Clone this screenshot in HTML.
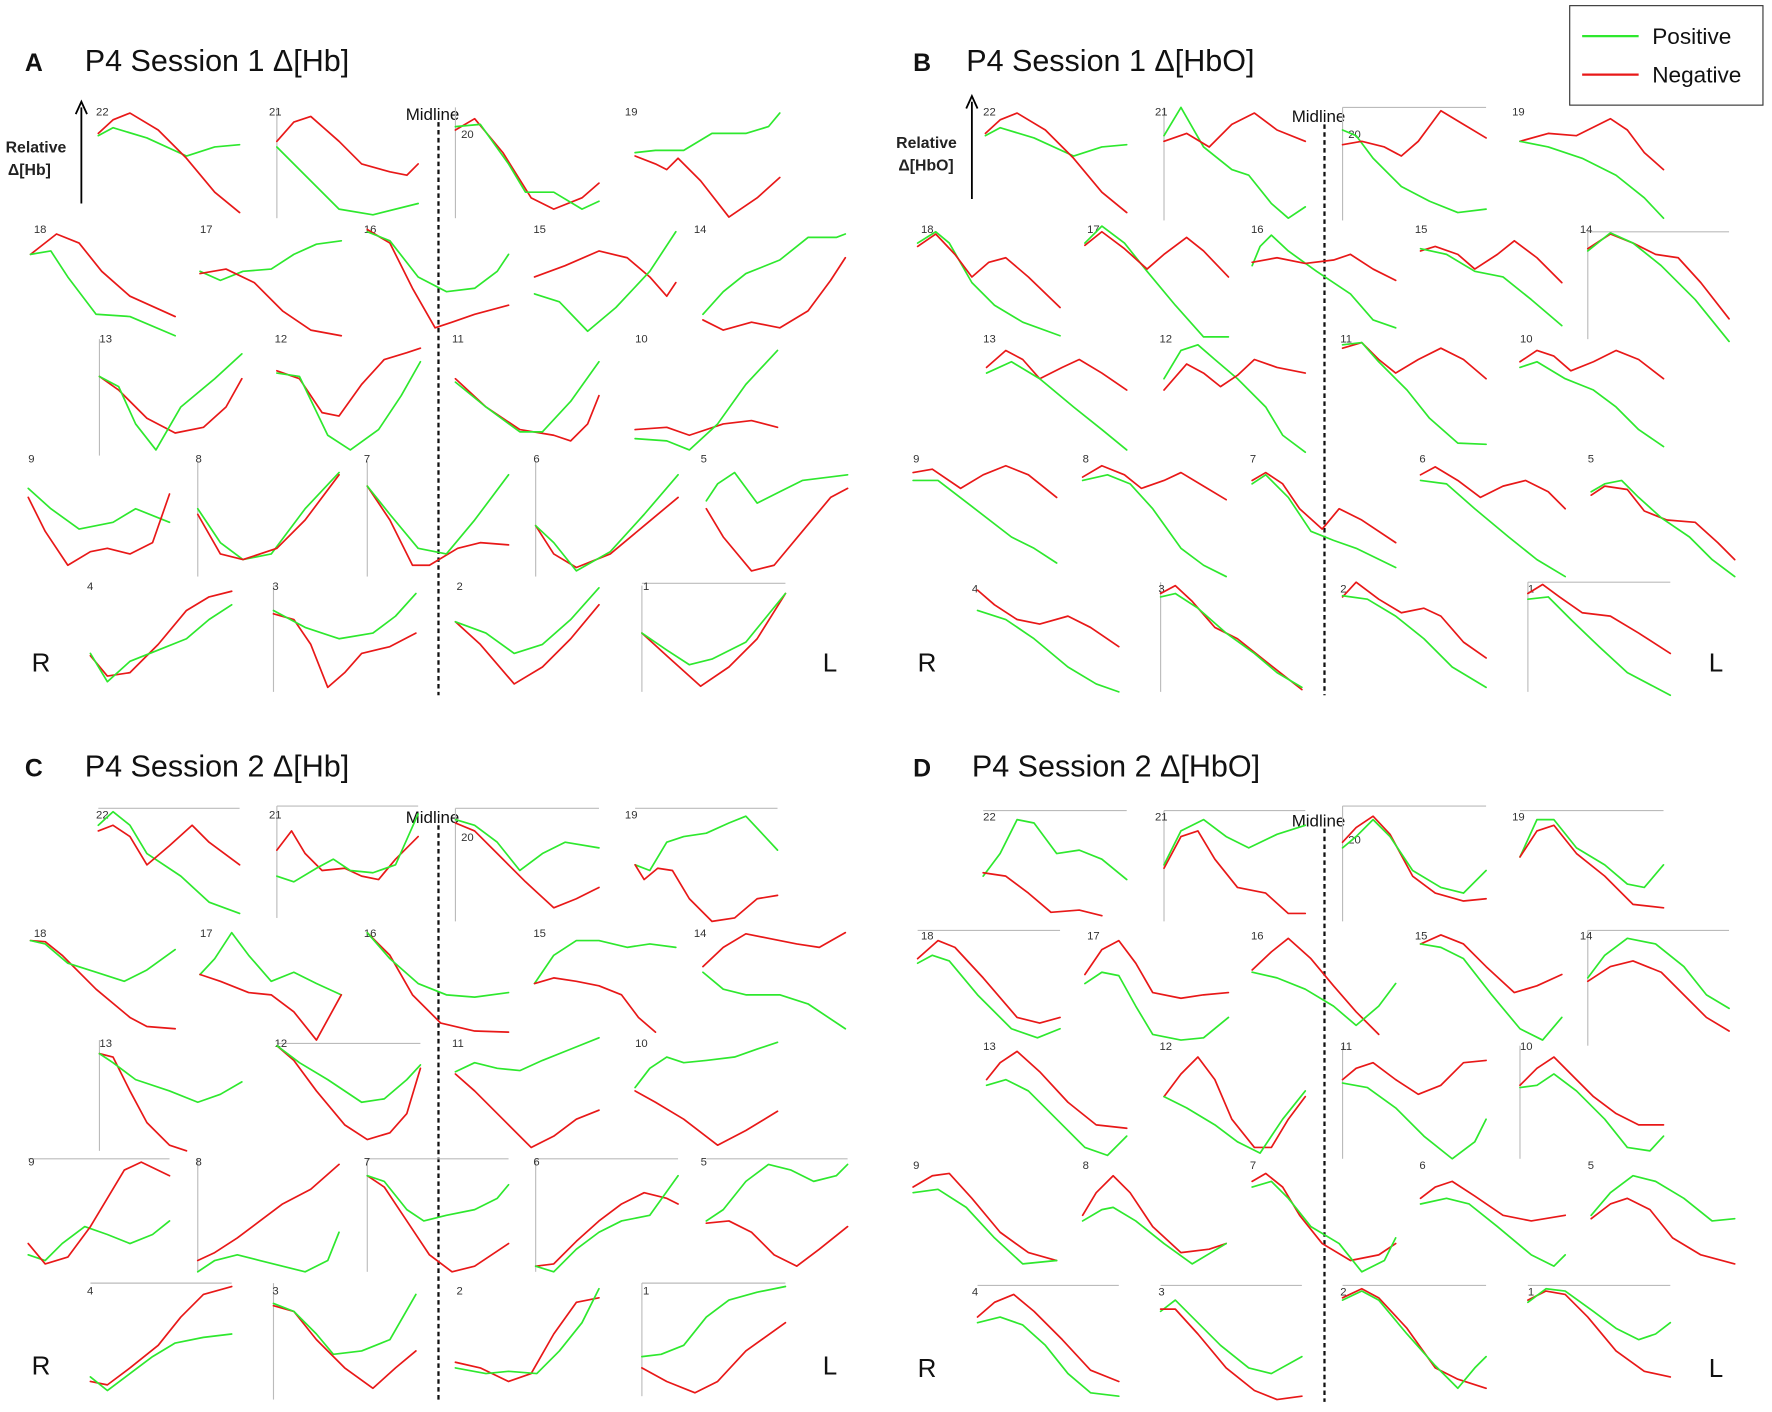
<!DOCTYPE html>
<html><head><meta charset="utf-8"><style>
html,body{margin:0;padding:0;background:#fff;}
svg{display:block;}
.g{fill:none;stroke:#2ee82e;stroke-width:1.5;stroke-linejoin:round;stroke-linecap:round}
.r{fill:none;stroke:#e81818;stroke-width:1.5;stroke-linejoin:round;stroke-linecap:round}
.ax{stroke:#bbb;stroke-width:1}
.n{font-family:"Liberation Sans",sans-serif;font-size:10px;fill:#333}
.t{font-family:"Liberation Sans",sans-serif;font-size:27px;fill:#111}
.b{font-family:"Liberation Sans",sans-serif;font-size:22px;font-weight:bold;fill:#111}
.m{font-family:"Liberation Sans",sans-serif;font-size:15px;fill:#111}
.rl{font-family:"Liberation Sans",sans-serif;font-size:23px;fill:#111}
.y{font-family:"Liberation Sans",sans-serif;font-size:14px;font-weight:bold;fill:#222}
.mid{stroke:#111;stroke-width:2;stroke-dasharray:4,3}
</style></head><body>
<svg width="1772" height="1412" viewBox="0 0 1568 1249" preserveAspectRatio="none" xmlns="http://www.w3.org/2000/svg">
<rect width="1568" height="1249" fill="#fff"/>
<!-- legend -->
<rect x="1389" y="5" width="171" height="88" fill="#fff" stroke="#333" stroke-width="1"/>
<line x1="1400" y1="32" x2="1450" y2="32" stroke="#2ee82e" stroke-width="2"/>
<line x1="1400" y1="66" x2="1450" y2="66" stroke="#e81818" stroke-width="2"/>
<text x="1462" y="39" class="m" style="font-size:20px">Positive</text>
<text x="1462" y="73" class="m" style="font-size:20px">Negative</text>
<!-- titles -->
<text x="22" y="63" class="b">A</text><text x="75" y="63" class="t">P4 Session 1 Δ[Hb]</text>
<text x="808" y="63" class="b">B</text><text x="855" y="63" class="t">P4 Session 1 Δ[HbO]</text>
<text x="22" y="687" class="b">C</text><text x="75" y="687" class="t">P4 Session 2 Δ[Hb]</text>
<text x="808" y="687" class="b">D</text><text x="860" y="687" class="t">P4 Session 2 Δ[HbO]</text>
<!-- y labels -->
<text x="5" y="135" class="y">Relative</text><text x="7" y="155" class="y">Δ[Hb]</text>
<line x1="72" y1="180" x2="72" y2="95" stroke="#000" stroke-width="1.6"/><path d="M67,101 L72,90 L77,101" fill="none" stroke="#000" stroke-width="1.6"/>
<text x="793" y="131" class="y">Relative</text><text x="795" y="151" class="y">Δ[HbO]</text>
<line x1="860" y1="176" x2="860" y2="90" stroke="#000" stroke-width="1.6"/><path d="M855,96 L860,85 L865,96" fill="none" stroke="#000" stroke-width="1.6"/>
<!-- midlines -->
<line x1="388" y1="108" x2="388" y2="615" class="mid"/><text x="359" y="106" class="m">Midline</text>
<line x1="1172" y1="110" x2="1172" y2="615" class="mid"/><text x="1143" y="108" class="m">Midline</text>
<line x1="388" y1="730" x2="388" y2="1240" class="mid"/><text x="359" y="728" class="m">Midline</text>
<line x1="1172" y1="733" x2="1172" y2="1240" class="mid"/><text x="1143" y="731" class="m">Midline</text>
<text x="28" y="594" class="rl">R</text><text x="728" y="594" class="rl">L</text>
<text x="812" y="594" class="rl">R</text><text x="1512" y="594" class="rl">L</text>
<text x="28" y="1216" class="rl">R</text><text x="728" y="1216" class="rl">L</text>
<text x="812" y="1218" class="rl">R</text><text x="1512" y="1218" class="rl">L</text>
<!-- axis lines -->
<g class="ax">
<line x1="245" y1="95" x2="245" y2="193"/><line x1="403" y1="95" x2="403" y2="193"/>
<line x1="88" y1="300" x2="88" y2="403"/><line x1="175" y1="408" x2="175" y2="510"/><line x1="325" y1="408" x2="325" y2="510"/><line x1="474" y1="408" x2="474" y2="510"/><line x1="242" y1="518" x2="242" y2="612"/><line x1="568" y1="518" x2="568" y2="612"/><line x1="568" y1="516" x2="695" y2="516"/>
<line x1="1030" y1="95" x2="1030" y2="195"/><line x1="1188" y1="95" x2="1188" y2="195"/><line x1="1188" y1="95" x2="1315" y2="95"/>
<line x1="1405" y1="205" x2="1405" y2="300"/><line x1="1405" y1="205" x2="1530" y2="205"/><line x1="1027" y1="515" x2="1027" y2="612"/><line x1="1352" y1="515" x2="1352" y2="612"/><line x1="1352" y1="515" x2="1478" y2="515"/>
<line x1="87" y1="715" x2="212" y2="715"/><line x1="245" y1="713" x2="370" y2="713"/><line x1="245" y1="713" x2="245" y2="812"/><line x1="403" y1="715" x2="530" y2="715"/><line x1="403" y1="715" x2="403" y2="815"/><line x1="562" y1="715" x2="688" y2="715"/>
<line x1="88" y1="920" x2="88" y2="1018"/><line x1="245" y1="923" x2="372" y2="923"/><line x1="25" y1="1025" x2="150" y2="1025"/><line x1="175" y1="1025" x2="175" y2="1125"/><line x1="325" y1="1025" x2="450" y2="1025"/><line x1="325" y1="1025" x2="325" y2="1125"/><line x1="474" y1="1025" x2="474" y2="1125"/><line x1="474" y1="1025" x2="600" y2="1025"/><line x1="625" y1="1025" x2="750" y2="1025"/><line x1="80" y1="1135" x2="205" y2="1135"/><line x1="242" y1="1135" x2="242" y2="1238"/><line x1="568" y1="1135" x2="695" y2="1135"/><line x1="568" y1="1135" x2="568" y2="1235"/>
<line x1="870" y1="717" x2="997" y2="717"/><line x1="1030" y1="717" x2="1155" y2="717"/><line x1="1030" y1="717" x2="1030" y2="815"/><line x1="1188" y1="713" x2="1315" y2="713"/><line x1="1188" y1="713" x2="1188" y2="815"/><line x1="1345" y1="717" x2="1472" y2="717"/>
<line x1="812" y1="823" x2="938" y2="823"/><line x1="1405" y1="823" x2="1530" y2="823"/><line x1="1405" y1="823" x2="1405" y2="925"/><line x1="1188" y1="925" x2="1188" y2="1025"/><line x1="1345" y1="925" x2="1345" y2="1025"/>
<line x1="865" y1="1137" x2="990" y2="1137"/><line x1="1027" y1="1137" x2="1152" y2="1137"/><line x1="1188" y1="1137" x2="1315" y2="1137"/><line x1="1352" y1="1137" x2="1478" y2="1137"/>
</g>
<!-- numbers -->
<g class="n">
<text x="85" y="102">22</text><text x="238" y="102">21</text><text x="408" y="122">20</text><text x="553" y="102">19</text>
<text x="30" y="206">18</text><text x="177" y="206">17</text><text x="322" y="206">16</text><text x="472" y="206">15</text><text x="614" y="206">14</text>
<text x="88" y="303">13</text><text x="243" y="303">12</text><text x="400" y="303">11</text><text x="562" y="303">10</text>
<text x="25" y="409">9</text><text x="173" y="409">8</text><text x="322" y="409">7</text><text x="472" y="409">6</text><text x="620" y="409">5</text>
<text x="77" y="522">4</text><text x="241" y="522">3</text><text x="404" y="522">2</text><text x="569" y="522">1</text>
<text x="870" y="102">22</text><text x="1022" y="102">21</text><text x="1193" y="122">20</text><text x="1338" y="102">19</text>
<text x="815" y="206">18</text><text x="962" y="206">17</text><text x="1107" y="206">16</text><text x="1252" y="206">15</text><text x="1398" y="206">14</text>
<text x="870" y="303">13</text><text x="1026" y="303">12</text><text x="1186" y="303">11</text><text x="1345" y="303">10</text>
<text x="808" y="409">9</text><text x="958" y="409">8</text><text x="1106" y="409">7</text><text x="1256" y="409">6</text><text x="1405" y="409">5</text>
<text x="860" y="524">4</text><text x="1025" y="524">3</text><text x="1186" y="524">2</text><text x="1352" y="524">1</text>
<text x="85" y="724">22</text><text x="238" y="724">21</text><text x="408" y="744">20</text><text x="553" y="724">19</text>
<text x="30" y="829">18</text><text x="177" y="829">17</text><text x="322" y="829">16</text><text x="472" y="829">15</text><text x="614" y="829">14</text>
<text x="88" y="926">13</text><text x="243" y="926">12</text><text x="400" y="926">11</text><text x="562" y="926">10</text>
<text x="25" y="1031">9</text><text x="173" y="1031">8</text><text x="322" y="1031">7</text><text x="472" y="1031">6</text><text x="620" y="1031">5</text>
<text x="77" y="1145">4</text><text x="241" y="1145">3</text><text x="404" y="1145">2</text><text x="569" y="1145">1</text>
<text x="870" y="726">22</text><text x="1022" y="726">21</text><text x="1193" y="746">20</text><text x="1338" y="726">19</text>
<text x="815" y="831">18</text><text x="962" y="831">17</text><text x="1107" y="831">16</text><text x="1252" y="831">15</text><text x="1398" y="831">14</text>
<text x="870" y="929">13</text><text x="1026" y="929">12</text><text x="1186" y="929">11</text><text x="1345" y="929">10</text>
<text x="808" y="1034">9</text><text x="958" y="1034">8</text><text x="1106" y="1034">7</text><text x="1256" y="1034">6</text><text x="1405" y="1034">5</text>
<text x="860" y="1146">4</text><text x="1025" y="1146">3</text><text x="1186" y="1146">2</text><text x="1352" y="1146">1</text>
</g>
<!-- Panel A -->
<polyline class="g" points="87,120 100,113 130,122 165,138 190,130 212,128"/>
<polyline class="r" points="87,118 100,106 115,100 140,115 165,140 190,170 212,188"/>
<polyline class="r" points="245,125 260,108 275,103 300,125 320,145 345,152 360,155 370,145"/>
<polyline class="g" points="245,130 270,155 300,185 330,190 370,180"/>
<polyline class="r" points="403,115 420,105 445,135 470,175 490,185 515,175 530,162"/>
<polyline class="g" points="403,112 425,110 450,145 465,170 490,170 515,185 530,178"/>
<polyline class="g" points="562,135 580,133 605,133 630,118 660,118 680,112 690,100"/>
<polyline class="r" points="562,138 580,145 590,150 600,140 620,160 645,192 670,175 690,157"/>
<polyline class="r" points="27,225 50,207 70,215 90,240 115,262 155,280"/>
<polyline class="g" points="27,225 45,222 60,245 85,278 115,280 155,297"/>
<polyline class="g" points="177,240 195,248 215,240 240,238 260,225 280,216 302,213"/>
<polyline class="r" points="177,242 200,238 225,250 250,275 275,292 302,297"/>
<polyline class="r" points="325,203 345,215 365,255 385,290 400,285 420,278 450,270"/>
<polyline class="g" points="325,205 345,213 370,245 395,258 420,255 440,240 450,225"/>
<polyline class="r" points="473,245 500,235 530,222 555,228 575,245 590,262 598,250"/>
<polyline class="g" points="473,260 495,267 520,293 545,272 575,240 598,205"/>
<polyline class="g" points="622,278 640,258 660,242 690,230 715,210 740,210 748,207"/>
<polyline class="r" points="622,283 640,292 665,285 690,290 715,275 735,248 748,228"/>
<polyline class="r" points="88,333 105,345 130,370 155,383 180,378 200,360 214,335"/>
<polyline class="g" points="88,333 105,342 120,375 138,398 160,360 190,335 214,313"/>
<polyline class="r" points="245,328 265,335 285,365 300,368 320,340 340,318 360,312 372,308"/>
<polyline class="g" points="245,330 265,333 290,385 310,398 335,380 355,350 372,320"/>
<polyline class="r" points="403,335 430,360 460,380 490,385 505,390 520,375 530,350"/>
<polyline class="g" points="403,338 430,360 460,382 480,382 505,355 530,320"/>
<polyline class="r" points="562,380 590,378 610,385 640,375 665,372 688,378"/>
<polyline class="g" points="562,388 590,390 610,398 635,375 660,340 688,310"/>
<polyline class="g" points="25,432 45,450 70,468 100,462 120,450 150,462"/>
<polyline class="r" points="25,440 40,470 60,500 80,488 95,485 115,490 135,480 150,437"/>
<polyline class="g" points="175,450 195,480 215,495 240,490 270,450 300,418"/>
<polyline class="r" points="175,455 195,490 215,495 245,485 270,460 300,420"/>
<polyline class="r" points="325,430 345,460 365,500 380,500 405,485 425,480 450,482"/>
<polyline class="g" points="325,430 345,455 370,485 395,490 420,460 450,420"/>
<polyline class="r" points="474,465 490,490 510,502 540,490 570,465 600,440"/>
<polyline class="g" points="474,465 490,480 510,505 540,488 570,455 600,420"/>
<polyline class="g" points="625,443 635,428 650,418 670,445 690,435 710,425 750,420"/>
<polyline class="r" points="625,450 640,475 665,505 685,500 710,470 735,440 750,432"/>
<polyline class="r" points="80,580 95,598 115,595 140,570 165,540 185,528 205,523"/>
<polyline class="g" points="80,578 95,603 115,585 140,575 165,565 185,548 205,535"/>
<polyline class="r" points="242,543 260,548 275,570 290,608 305,595 320,578 345,572 368,560"/>
<polyline class="g" points="242,540 270,555 300,565 330,560 350,545 368,525"/>
<polyline class="r" points="403,550 425,570 455,605 480,590 505,565 530,535"/>
<polyline class="g" points="403,550 430,560 455,578 480,570 505,548 530,520"/>
<polyline class="r" points="568,560 590,580 620,607 645,590 670,565 695,525"/>
<polyline class="g" points="568,560 590,575 610,588 630,583 660,568 695,525"/>
<!-- Panel B -->
<polyline class="g" points="872,120 885,113 915,122 950,138 975,130 997,128"/>
<polyline class="r" points="872,118 885,106 900,100 925,115 950,140 975,170 997,188"/>
<polyline class="g" points="1030,120 1045,95 1065,130 1090,150 1105,155 1125,180 1140,193 1155,183"/>
<polyline class="r" points="1030,125 1050,118 1070,130 1090,110 1110,100 1130,115 1155,125"/>
<polyline class="g" points="1188,115 1200,120 1215,140 1240,165 1265,178 1290,188 1315,185"/>
<polyline class="r" points="1188,128 1205,125 1225,130 1240,138 1255,125 1275,98 1295,110 1315,122"/>
<polyline class="r" points="1345,125 1370,118 1395,120 1425,105 1440,115 1455,135 1472,150"/>
<polyline class="g" points="1345,125 1370,130 1400,140 1430,155 1455,175 1472,193"/>
<polyline class="g" points="812,215 828,205 840,215 860,250 880,270 905,285 938,297"/>
<polyline class="r" points="812,218 828,207 845,225 860,245 875,232 890,228 910,245 938,272"/>
<polyline class="g" points="960,215 975,200 995,215 1015,240 1040,270 1065,298 1087,298"/>
<polyline class="r" points="960,217 975,205 995,220 1015,238 1030,225 1050,210 1065,222 1087,245"/>
<polyline class="g" points="1108,235 1115,218 1125,208 1140,222 1165,240 1195,260 1215,283 1235,290"/>
<polyline class="r" points="1108,232 1130,228 1155,233 1180,230 1195,225 1215,238 1235,248"/>
<polyline class="r" points="1257,222 1270,218 1290,225 1305,238 1325,225 1340,213 1360,228 1382,250"/>
<polyline class="g" points="1257,220 1280,225 1305,240 1330,245 1355,265 1382,288"/>
<polyline class="r" points="1405,220 1425,207 1445,215 1465,225 1485,228 1505,250 1530,282"/>
<polyline class="g" points="1405,222 1425,206 1445,215 1470,235 1500,265 1530,302"/>
<polyline class="r" points="873,325 890,310 905,318 920,335 940,325 955,318 975,330 997,345"/>
<polyline class="g" points="873,330 895,320 920,335 950,360 975,380 997,398"/>
<polyline class="g" points="1030,335 1045,310 1060,305 1075,318 1095,335 1120,360 1135,385 1155,400"/>
<polyline class="r" points="1030,345 1050,322 1065,330 1080,342 1095,332 1110,318 1130,325 1155,330"/>
<polyline class="r" points="1188,308 1205,303 1220,318 1235,330 1255,318 1275,308 1295,318 1315,335"/>
<polyline class="g" points="1188,305 1205,303 1220,320 1245,345 1265,370 1290,392 1315,393"/>
<polyline class="r" points="1345,320 1360,310 1375,315 1390,328 1410,320 1430,310 1450,318 1472,335"/>
<polyline class="g" points="1345,325 1360,320 1385,335 1410,345 1430,360 1450,380 1472,395"/>
<polyline class="g" points="808,425 830,425 860,448 895,475 915,485 935,498"/>
<polyline class="r" points="808,418 825,415 850,432 870,420 890,412 910,420 935,440"/>
<polyline class="r" points="958,422 975,412 995,420 1010,432 1030,425 1045,418 1065,430 1085,442"/>
<polyline class="g" points="958,425 980,420 1000,428 1020,450 1045,485 1065,500 1085,510"/>
<polyline class="r" points="1108,425 1120,418 1135,428 1150,450 1170,468 1185,450 1205,460 1235,480"/>
<polyline class="g" points="1108,428 1120,420 1140,440 1160,470 1180,478 1200,485 1235,502"/>
<polyline class="r" points="1257,420 1270,413 1290,425 1310,440 1330,430 1350,425 1370,435 1385,450"/>
<polyline class="g" points="1257,425 1280,428 1305,450 1335,475 1360,495 1385,510"/>
<polyline class="r" points="1408,438 1420,430 1440,433 1455,452 1475,460 1500,462 1520,480 1535,495"/>
<polyline class="g" points="1408,435 1420,428 1435,425 1450,440 1470,458 1495,475 1515,495 1535,510"/>
<polyline class="g" points="865,540 890,548 915,565 945,590 970,605 990,612"/>
<polyline class="r" points="865,522 880,535 900,548 920,552 945,545 965,555 990,572"/>
<polyline class="r" points="1027,525 1040,518 1055,532 1075,555 1095,565 1120,585 1152,610"/>
<polyline class="g" points="1027,528 1040,525 1060,538 1085,560 1110,578 1130,595 1152,608"/>
<polyline class="r" points="1188,528 1200,515 1220,530 1240,542 1260,538 1275,545 1295,568 1315,582"/>
<polyline class="g" points="1188,527 1210,530 1235,545 1260,565 1285,590 1315,608"/>
<polyline class="r" points="1352,525 1365,517 1380,528 1400,542 1425,545 1450,560 1478,578"/>
<polyline class="g" points="1352,530 1370,528 1390,548 1415,572 1440,595 1478,615"/>
<!-- Panel C -->
<polyline class="g" points="87,730 100,718 115,730 130,755 160,775 185,798 212,808"/>
<polyline class="r" points="87,735 100,730 115,740 130,765 150,748 170,730 185,745 212,765"/>
<polyline class="r" points="245,752 258,735 270,755 285,770 305,768 320,775 335,778 350,760 370,740"/>
<polyline class="g" points="245,775 260,780 280,768 295,760 310,770 330,772 350,765 370,720"/>
<polyline class="r" points="403,728 420,735 440,755 465,780 490,803 510,795 530,785"/>
<polyline class="g" points="403,725 420,730 440,745 460,770 480,755 500,745 530,750"/>
<polyline class="g" points="562,765 575,770 590,745 605,740 625,737 645,728 660,722 675,738 688,752"/>
<polyline class="r" points="562,765 570,778 582,768 595,770 610,795 630,815 650,812 670,795 688,792"/>
<polyline class="r" points="27,832 40,833 55,845 85,875 115,900 130,908 155,910"/>
<polyline class="g" points="27,832 40,835 60,852 85,860 110,868 130,858 155,840"/>
<polyline class="g" points="177,862 190,848 205,825 220,845 240,868 260,860 280,870 302,880"/>
<polyline class="r" points="177,862 195,868 220,878 240,880 260,895 280,920 302,880"/>
<polyline class="r" points="325,825 345,845 365,880 390,905 420,912 450,913"/>
<polyline class="g" points="325,825 345,848 370,870 395,880 420,882 450,878"/>
<polyline class="g" points="473,870 490,845 510,832 530,832 555,838 575,835 598,838"/>
<polyline class="r" points="473,870 490,865 510,868 530,872 550,880 565,900 580,913"/>
<polyline class="r" points="622,855 640,838 660,826 680,830 705,835 725,838 748,825"/>
<polyline class="g" points="622,860 640,875 660,880 690,880 715,888 748,910"/>
<polyline class="r" points="88,932 100,935 115,965 130,993 150,1013 165,1018"/>
<polyline class="g" points="88,932 100,940 120,955 150,965 175,975 195,968 214,957"/>
<polyline class="r" points="245,925 260,938 280,965 305,995 325,1008 345,1002 360,985 372,945"/>
<polyline class="g" points="245,925 265,940 290,955 320,975 340,972 360,955 372,942"/>
<polyline class="g" points="403,948 420,940 440,945 460,947 480,938 505,928 530,918"/>
<polyline class="r" points="403,950 420,965 445,990 470,1015 490,1005 510,990 530,982"/>
<polyline class="g" points="562,962 575,945 590,935 605,940 625,938 650,935 670,928 688,922"/>
<polyline class="r" points="562,965 580,975 605,990 635,1013 660,1000 688,983"/>
<polyline class="g" points="25,1110 40,1115 55,1100 75,1085 95,1092 115,1100 135,1092 150,1080"/>
<polyline class="r" points="25,1100 40,1118 60,1112 80,1085 95,1060 110,1035 125,1028 150,1040"/>
<polyline class="r" points="175,1115 190,1108 210,1095 230,1080 250,1065 275,1052 300,1030"/>
<polyline class="g" points="175,1125 190,1115 210,1110 230,1115 250,1120 270,1125 290,1115 300,1090"/>
<polyline class="r" points="325,1040 340,1050 360,1080 380,1110 400,1125 420,1120 450,1100"/>
<polyline class="g" points="325,1040 340,1045 360,1070 375,1080 395,1075 420,1070 440,1060 450,1048"/>
<polyline class="r" points="474,1120 490,1118 510,1098 530,1080 550,1065 570,1055 590,1060 600,1065"/>
<polyline class="g" points="474,1120 490,1125 510,1105 530,1090 550,1080 575,1075 600,1040"/>
<polyline class="g" points="625,1080 640,1070 660,1045 680,1030 700,1035 720,1045 740,1040 750,1030"/>
<polyline class="r" points="625,1082 645,1080 665,1090 685,1110 705,1120 725,1105 750,1085"/>
<polyline class="r" points="80,1222 95,1225 115,1210 140,1190 160,1165 180,1145 205,1138"/>
<polyline class="g" points="80,1218 95,1230 115,1215 135,1200 155,1188 180,1183 205,1180"/>
<polyline class="r" points="242,1155 260,1160 280,1185 305,1210 330,1228 350,1210 368,1195"/>
<polyline class="g" points="242,1153 260,1160 280,1180 295,1198 320,1195 345,1185 368,1145"/>
<polyline class="r" points="403,1205 425,1210 450,1222 470,1215 490,1180 510,1152 530,1148"/>
<polyline class="g" points="403,1210 430,1215 450,1213 475,1215 495,1195 515,1170 530,1140"/>
<polyline class="g" points="568,1200 585,1198 605,1190 625,1165 645,1150 670,1143 695,1138"/>
<polyline class="r" points="568,1210 590,1222 615,1232 635,1222 660,1195 695,1170"/>
<!-- Panel D -->
<polyline class="g" points="870,775 885,755 900,725 915,728 935,755 955,752 975,760 997,778"/>
<polyline class="r" points="870,772 890,775 910,790 930,807 955,805 975,810"/>
<polyline class="g" points="1030,765 1045,735 1065,725 1085,740 1105,750 1130,738 1155,730"/>
<polyline class="r" points="1030,768 1045,740 1060,735 1075,760 1095,785 1120,790 1140,808 1155,808"/>
<polyline class="r" points="1188,745 1200,732 1215,722 1230,738 1250,775 1270,790 1295,797 1315,795"/>
<polyline class="g" points="1188,750 1200,740 1215,725 1230,740 1250,770 1275,785 1295,790 1315,770"/>
<polyline class="g" points="1345,758 1360,725 1375,725 1395,750 1420,765 1440,782 1455,785 1472,765"/>
<polyline class="r" points="1345,758 1360,735 1375,730 1395,755 1420,775 1445,800 1472,803"/>
<polyline class="r" points="812,848 830,832 845,838 870,865 900,900 920,905 938,900"/>
<polyline class="g" points="812,852 825,845 840,850 865,880 895,910 918,918 938,910"/>
<polyline class="r" points="960,862 975,840 990,832 1005,852 1020,878 1045,883 1065,880 1087,878"/>
<polyline class="g" points="960,870 975,860 990,863 1005,890 1020,915 1045,920 1065,918 1087,900"/>
<polyline class="r" points="1108,858 1125,842 1140,830 1160,848 1180,872 1200,895 1220,915"/>
<polyline class="g" points="1108,860 1130,865 1155,875 1180,890 1200,907 1220,890 1235,870"/>
<polyline class="r" points="1257,835 1275,827 1295,835 1315,855 1340,878 1360,872 1382,862"/>
<polyline class="g" points="1257,835 1275,838 1295,848 1320,880 1345,910 1365,920 1382,900"/>
<polyline class="g" points="1405,865 1420,845 1440,830 1465,835 1490,855 1510,880 1530,892"/>
<polyline class="r" points="1405,868 1425,855 1445,850 1470,860 1490,880 1510,900 1530,912"/>
<polyline class="r" points="873,955 885,940 900,930 920,948 945,975 970,995 997,998"/>
<polyline class="g" points="873,960 890,955 910,965 935,990 960,1015 980,1022 997,1005"/>
<polyline class="r" points="1030,970 1045,950 1060,935 1075,955 1090,990 1110,1015 1125,1015 1140,990 1155,970"/>
<polyline class="g" points="1030,970 1050,980 1075,995 1095,1010 1115,1020 1135,990 1155,965"/>
<polyline class="r" points="1188,955 1200,945 1215,940 1235,955 1255,968 1275,960 1295,940 1315,938"/>
<polyline class="g" points="1188,958 1210,962 1235,980 1260,1005 1285,1025 1305,1010 1315,990"/>
<polyline class="r" points="1345,960 1360,945 1375,935 1390,950 1410,970 1430,985 1450,995 1472,995"/>
<polyline class="g" points="1345,962 1360,960 1375,950 1395,965 1420,990 1440,1015 1460,1018 1472,1005"/>
<polyline class="r" points="808,1050 825,1040 840,1038 860,1060 885,1090 910,1108 935,1115"/>
<polyline class="g" points="808,1055 830,1052 855,1068 880,1095 905,1118 935,1115"/>
<polyline class="r" points="958,1075 970,1055 985,1040 1000,1055 1020,1085 1045,1108 1070,1105 1085,1100"/>
<polyline class="g" points="958,1080 975,1070 985,1068 1005,1080 1030,1100 1055,1118 1085,1100"/>
<polyline class="r" points="1108,1045 1120,1038 1135,1050 1150,1075 1170,1100 1195,1115 1220,1110 1235,1100"/>
<polyline class="g" points="1108,1050 1125,1045 1140,1060 1160,1085 1185,1100 1205,1125 1225,1115 1235,1095"/>
<polyline class="r" points="1257,1060 1270,1050 1285,1045 1305,1058 1330,1075 1355,1080 1385,1075"/>
<polyline class="g" points="1257,1065 1280,1060 1300,1065 1325,1085 1355,1110 1375,1120 1385,1110"/>
<polyline class="g" points="1408,1075 1425,1055 1445,1040 1465,1045 1490,1060 1515,1080 1535,1078"/>
<polyline class="r" points="1408,1078 1425,1065 1440,1060 1460,1070 1480,1095 1505,1110 1535,1118"/>
<polyline class="r" points="865,1165 880,1152 897,1145 915,1160 940,1185 965,1212 990,1222"/>
<polyline class="g" points="865,1170 885,1165 905,1172 925,1190 945,1215 965,1232 990,1235"/>
<polyline class="g" points="1027,1160 1040,1150 1055,1165 1080,1190 1105,1210 1125,1215 1152,1200"/>
<polyline class="r" points="1027,1158 1040,1158 1060,1180 1085,1210 1110,1230 1130,1238 1152,1235"/>
<polyline class="r" points="1188,1148 1205,1140 1220,1148 1245,1175 1270,1210 1290,1220 1315,1228"/>
<polyline class="g" points="1188,1150 1205,1142 1220,1150 1245,1180 1270,1208 1290,1228 1305,1210 1315,1200"/>
<polyline class="r" points="1352,1150 1368,1142 1385,1145 1405,1165 1430,1195 1455,1213 1478,1218"/>
<polyline class="g" points="1352,1152 1368,1140 1385,1142 1410,1160 1430,1175 1450,1185 1465,1180 1478,1170"/>
</svg>
</body></html>
